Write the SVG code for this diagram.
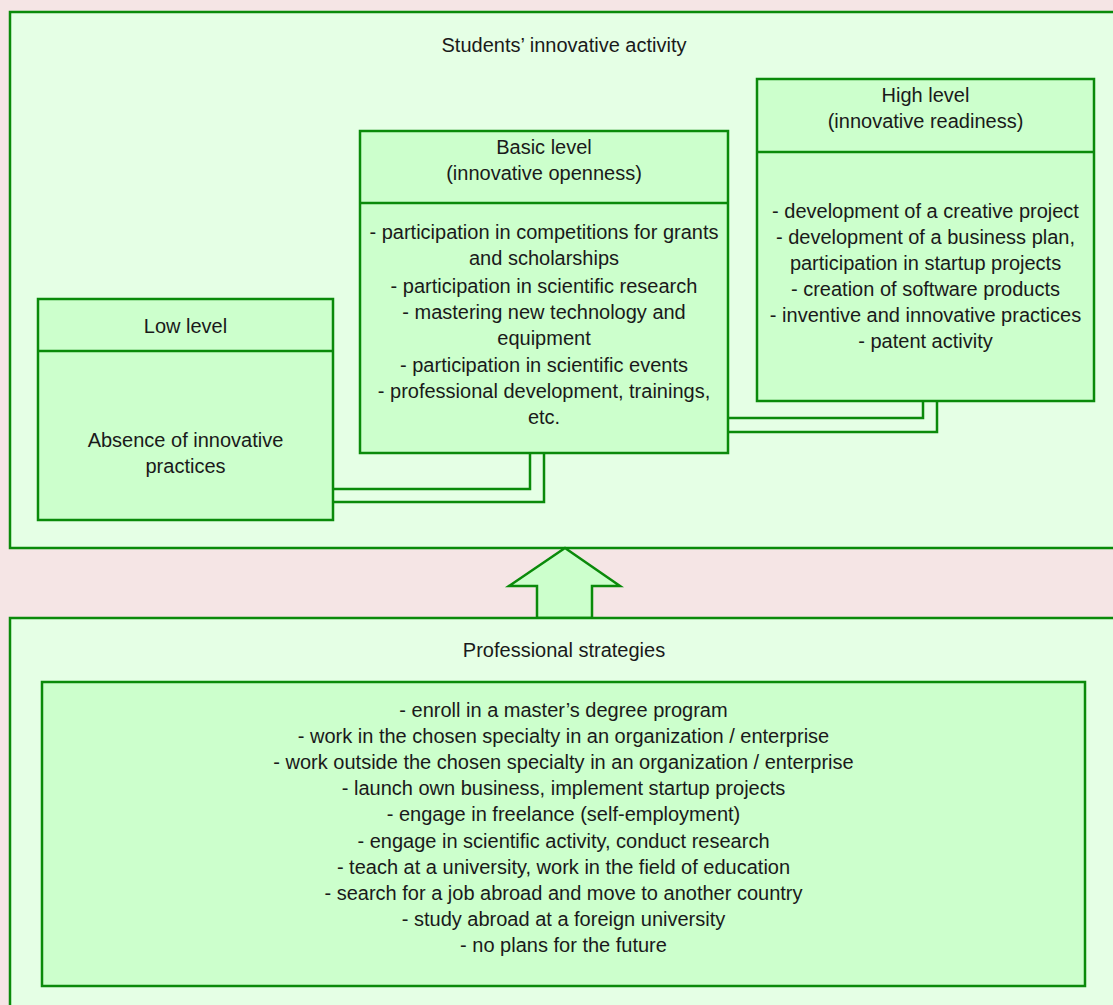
<svg xmlns="http://www.w3.org/2000/svg" width="1113" height="1005" viewBox="0 0 1113 1005">
<style>
.outer{fill:#E5FFE5;stroke:#0A8A0A;stroke-width:2.5}
.inner{fill:#CCFFCC;stroke:#0A8A0A;stroke-width:2.5}
.ln{fill:none;stroke:#0A8A0A;stroke-width:2.5}
text{font-family:"Liberation Sans",Arial,sans-serif;font-size:20px;fill:#1a1a1a;text-anchor:middle}
</style>
<rect x="0" y="0" width="1113" height="1005" fill="#F5E5E5"/>
<g id="activity">
<rect class="outer" x="10" y="12" width="1115" height="536"/>
<text x="564" y="52">Students’ innovative activity</text>
</g>
<g id="low">
<rect class="inner" x="38" y="299" width="295" height="221"/>
<line class="ln" x1="38" y1="351" x2="333" y2="351"/>
<text x="185.5" y="333">Low level</text>
<text x="185.5" y="447">Absence of innovative</text>
<text x="185.5" y="473">practices</text>
</g>
<g id="basic">
<rect class="inner" x="360" y="131" width="368" height="322"/>
<line class="ln" x1="360" y1="203" x2="728" y2="203"/>
<text x="544" y="154">Basic level</text>
<text x="544" y="180">(innovative openness)</text>
<text x="544" y="239">- participation in competitions for grants</text>
<text x="544" y="265">and scholarships</text>
<text x="544" y="293">- participation in scientific research</text>
<text x="544" y="319">- mastering new technology and</text>
<text x="544" y="345">equipment</text>
<text x="544" y="372">- participation in scientific events</text>
<text x="544" y="398">- professional development, trainings,</text>
<text x="544" y="424">etc.</text>
</g>
<g id="high">
<rect class="inner" x="757" y="79" width="337" height="322"/>
<line class="ln" x1="757" y1="152" x2="1094" y2="152"/>
<text x="925.5" y="102">High level</text>
<text x="925.5" y="128">(innovative readiness)</text>
<text x="925.5" y="218">- development of a creative project</text>
<text x="925.5" y="244">- development of a business plan,</text>
<text x="925.5" y="270">participation in startup projects</text>
<text x="925.5" y="296">- creation of software products</text>
<text x="925.5" y="322">- inventive and innovative practices</text>
<text x="925.5" y="348">- patent activity</text>
</g>
<g id="connectors">
<polyline class="ln" points="530,453 530,489 333,489"/>
<polyline class="ln" points="544,453 544,502 333,502"/>
<polyline class="ln" points="923,401 923,418 728,418"/>
<polyline class="ln" points="937,401 937,432 728,432"/>
</g>
<g id="arrow">
<polygon class="inner" points="565,548 620,586 592,586 592,618 537,618 537,586 509,586"/>
</g>
<g id="strategies">
<rect class="outer" x="10" y="618" width="1115" height="400"/>
<text x="564" y="657">Professional strategies</text>
</g>
<g id="strategy-list">
<rect class="inner" x="42" y="682" width="1043" height="304"/>
<text x="563.5" y="717">- enroll in a master’s degree program</text>
<text x="563.5" y="743">- work in the chosen specialty in an organization / enterprise</text>
<text x="563.5" y="769">- work outside the chosen specialty in an organization / enterprise</text>
<text x="563.5" y="795">- launch own business, implement startup projects</text>
<text x="563.5" y="821">- engage in freelance (self-employment)</text>
<text x="563.5" y="848">- engage in scientific activity, conduct research</text>
<text x="563.5" y="874">- teach at a university, work in the field of education</text>
<text x="563.5" y="900">- search for a job abroad and move to another country</text>
<text x="563.5" y="926">- study abroad at a foreign university</text>
<text x="563.5" y="952">- no plans for the future</text>
</g>
</svg>
